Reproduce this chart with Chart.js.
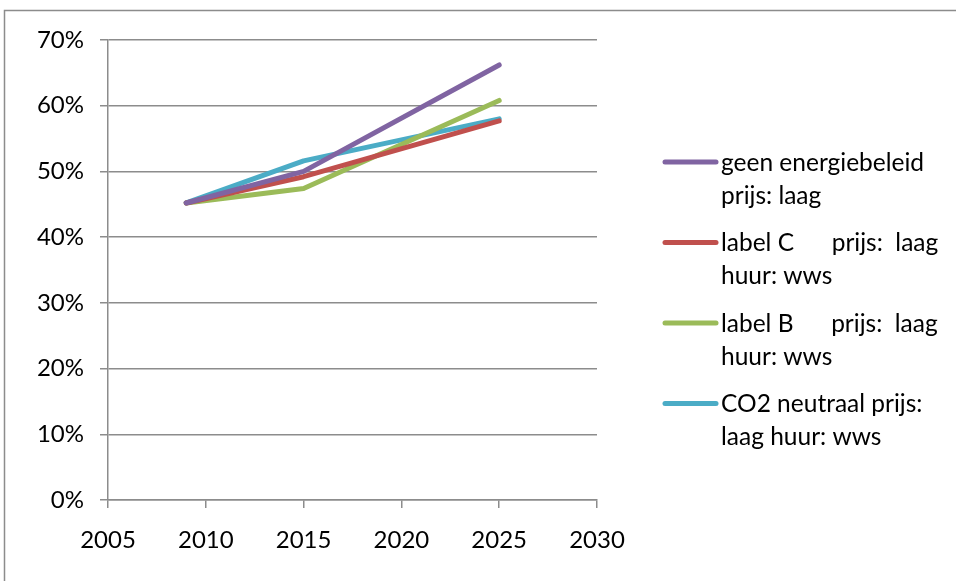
<!DOCTYPE html>
<html>
<head>
<meta charset="utf-8">
<script src="https://cdn.jsdelivr.net/npm/chart.js@4/dist/chart.umd.min.js"></script>
<style>
  html, body { margin: 0; padding: 0; background: #fff; }
  #wrap { width: 956px; height: 581px; position: relative; }
</style>
</head>
<body>
<div id="wrap"><canvas id="chart" width="956" height="581"></canvas></div>
<script>
let years = [2009, 2015, 2025];
let geenBeleid = [45.2, 50.0, 66.2];
let labelC = [45.2, 49.2, 57.7];
let labelB = [45.2, 47.4, 60.8];
let co2Neutraal = [45.2, 51.6, 58.0];
let legendLines = [
	["geen energiebeleid", "prijs: laag"],
	["label C      prijs:  laag", "huur: wws"],
	["label B      prijs:  laag", "huur: wws"],
	["CO2 neutraal prijs:", "laag huur: wws"]
];
let colors = ["#8064A2", "#C0504D", "#9BBB59", "#4BACC6"];
let gridColor = "#8c8c8c";
let font = "Lato, 'Open Sans', sans-serif";

function toPoints(values){
	let pts = [];
	for(let i = 0; i < years.length; i++){
		pts.push({x: years[i], y: values[i]});
	}
	return pts;
}

let series = [geenBeleid, labelC, labelB, co2Neutraal];
let datasets = [];
for(let i = 0; i < series.length; i++){
	datasets.push({
		label: legendLines[i].join(" "),
		data: toPoints(series[i]),
		borderColor: colors[i],
		backgroundColor: colors[i],
		borderWidth: 5,
		borderCapStyle: "round",
		borderJoinStyle: "round",
		pointRadius: 0,
		tension: 0
	});
}

// outer frame and the legend on the right
let extras = {
	id: "extras",
	afterDraw(chart){
		let ctx = chart.ctx;
		ctx.save();
		ctx.strokeStyle = gridColor;
		ctx.lineWidth = 1.5;
		ctx.strokeRect(4.5, 10.5, 1200, 1200);

		ctx.font = "24.5px " + font;
		ctx.fillStyle = "#000";
		ctx.textBaseline = "middle";
		ctx.textAlign = "left";
		let y = 162;
		for(let i = 0; i < legendLines.length; i++){
			ctx.strokeStyle = colors[i];
			ctx.lineWidth = 5;
			ctx.lineCap = "round";
			ctx.beginPath();
			ctx.moveTo(665, y);
			ctx.lineTo(716, y);
			ctx.stroke();
			for(let j = 0; j < legendLines[i].length; j++){
				ctx.fillText(legendLines[i][j], 721, y + 1 + j * 33);
			}
			y += 80.5;
		}
		ctx.restore();
	}
};

new Chart(document.getElementById("chart"), {
	type: "line",
	data: {datasets: datasets},
	options: {
		responsive: false,
		animation: false,
		layout: {padding: {left: 0, top: 40, right: 359, bottom: 0}},
		plugins: {legend: {display: false}, tooltip: {enabled: false}},
		scales: {
			x: {
				type: "linear",
				min: 2005,
				max: 2030,
				afterFit(scale){ scale.height = 81; },
				ticks: {
					stepSize: 5,
					color: "#000",
					padding: 18,
					font: {family: font, size: 24},
					callback: function(v){ return String(v); }
				},
				grid: {drawOnChartArea: false, drawTicks: true, tickLength: 8, color: gridColor, lineWidth: 1.5},
				border: {color: gridColor, width: 1.5}
			},
			y: {
				min: 0,
				max: 70,
				afterFit(scale){ scale.width = 108; },
				ticks: {
					stepSize: 10,
					color: "#000",
					padding: 16,
					font: {family: font, size: 24},
					callback: function(v){ return v + "%"; }
				},
				grid: {color: gridColor, lineWidth: 1.5, tickLength: 8},
				border: {color: gridColor, width: 1.5}
			}
		}
	},
	plugins: [extras]
});
</script>
</body>
</html>
